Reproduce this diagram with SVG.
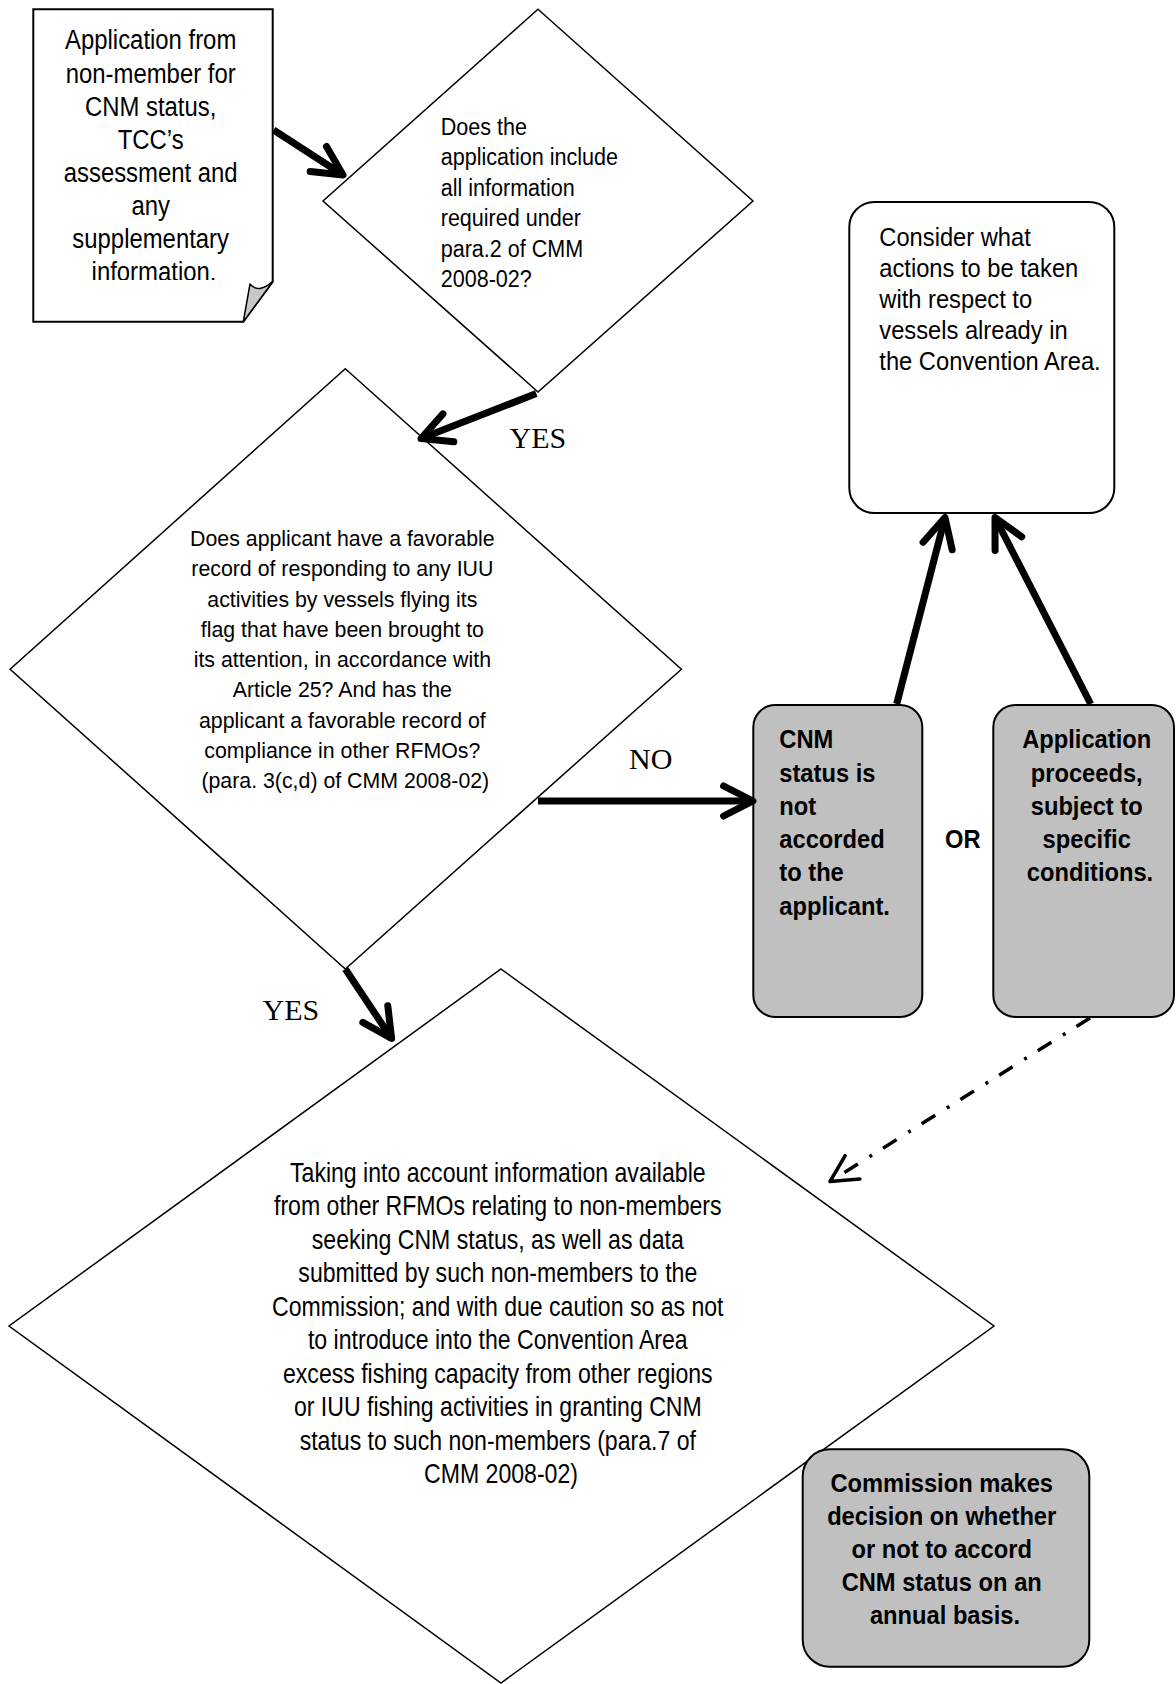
<svg xmlns="http://www.w3.org/2000/svg" width="1176" height="1684" viewBox="0 0 1176 1684">
<defs>
<style>
.sh{fill:#fff;stroke:#000;stroke-width:1.5}
.gbox{fill:#c0c0c0;stroke:#000;stroke-width:2}
.wbox{fill:#fff;stroke:#000;stroke-width:2}
.t{font-family:"Liberation Sans",Arial,sans-serif;fill:#000}
.b{font-weight:bold}
.lbl{font-family:"Liberation Serif","Times New Roman",serif;font-size:30px;fill:#000}
.arr{fill:none;stroke:#000;stroke-width:7;marker-end:url(#ah)}
.dash{fill:none;stroke:#000;stroke-width:3.5;stroke-dasharray:16 13 3 13.7;marker-end:url(#ah2)}
</style>
<marker id="ah" markerUnits="userSpaceOnUse" viewBox="-40 -25 50 50" markerWidth="50" markerHeight="50" refX="0" refY="0" orient="auto">
<path d="M-29.4,-15 L0,0 L-29.4,15" fill="none" stroke="#000" stroke-width="7" stroke-linecap="round" stroke-linejoin="round"/>
</marker>
<marker id="ah2" markerUnits="userSpaceOnUse" viewBox="-40 -25 50 50" markerWidth="50" markerHeight="50" refX="0" refY="0" orient="auto">
<path d="M-26.6,-13.8 L0,0 L-26.6,13.8" fill="none" stroke="#000" stroke-width="3.5" stroke-linecap="round" stroke-linejoin="round"/>
</marker>
<clipPath id="docclip"><rect x="34" y="10" width="238" height="270"/></clipPath>
</defs>

<g id="doc">
<path class="wbox" d="M33.3,9.3 H272.7 V281.7 L243.3,321.7 H33.3 Z"/>
<path d="M250,284 Q258,294 272.7,281.7 L243.3,321.7 Z" fill="#c8c8c8" stroke="#000" stroke-width="1.5" stroke-linejoin="round"/>
<g clip-path="url(#docclip)">
<g transform="translate(154 0) scale(0.885 1)">
<text class="t" font-size="27" text-anchor="middle">
<tspan x="0" y="49.5">Application from</tspan>
<tspan x="0" y="82.6">non-member for</tspan>
<tspan x="0" y="115.7">CNM status,</tspan>
<tspan x="0" y="148.8">TCC’s</tspan>
<tspan x="0" y="181.9">assessment and</tspan>
<tspan x="0" y="215">any</tspan>
<tspan x="0" y="248.1">supplementary</tspan>
<tspan x="0" y="281.2">information.</tspan>
</text>
</g>
</g>
</g>

<g id="q1">
<path class="sh" d="M538,9.3 L753,201 L538,392 L323,201 Z"/>
<g transform="translate(440.7 0) scale(0.88 1)">
<text class="t" font-size="24.5">
<tspan x="0" y="135">Does the</tspan>
<tspan x="0" y="165.5">application include</tspan>
<tspan x="0" y="196">all information</tspan>
<tspan x="0" y="226.5">required under</tspan>
<tspan x="0" y="257">para.2 of CMM</tspan>
<tspan x="0" y="287.5">2008-02?</tspan>
</text>
</g>
</g>

<g id="consider">
<rect class="wbox" x="849.3" y="202" width="265" height="311" rx="25" ry="25"/>
<g transform="translate(879.3 0) scale(0.93 1)">
<text class="t" font-size="25.5">
<tspan x="0" y="246">Consider what</tspan>
<tspan x="0" y="277">actions to be taken</tspan>
<tspan x="0" y="308">with respect to</tspan>
<tspan x="0" y="339">vessels already in</tspan>
<tspan x="0" y="370">the Convention Area.</tspan>
</text>
</g>
</g>

<g id="q2">
<path class="sh" d="M345.3,368.7 L681.4,669.2 L345.3,969 L10.1,669.2 Z"/>
<g transform="translate(345.3 0) scale(0.935 1)">
<text class="t" font-size="22.8" text-anchor="middle">
<tspan x="0" y="546">Does applicant have a favorable</tspan>
<tspan x="0" y="576.3">record of responding to any IUU</tspan>
<tspan x="0" y="606.6">activities by vessels flying its</tspan>
<tspan x="0" y="636.9">flag that have been brought to</tspan>
<tspan x="0" y="667.2">its attention, in accordance with</tspan>
<tspan x="0" y="697.5">Article 25? And has the</tspan>
<tspan x="0" y="727.8">applicant a favorable record of</tspan>
<tspan x="0" y="758.1">compliance in other RFMOs?</tspan>
<tspan x="0" y="788.4">(para. 3(c,d) of CMM 2008-02)</tspan>
</text>
</g>
</g>

<g id="notaccorded">
<rect class="gbox" x="753.3" y="705" width="169" height="312" rx="22" ry="22"/>
<g transform="translate(779.3 0) scale(0.895 1)">
<text class="t b" font-size="26.5">
<tspan x="0" y="748.3">CNM</tspan>
<tspan x="0" y="781.6">status is</tspan>
<tspan x="0" y="814.9">not</tspan>
<tspan x="0" y="848.2">accorded</tspan>
<tspan x="0" y="881.5">to the</tspan>
<tspan x="0" y="914.8">applicant.</tspan>
</text>
</g>
</g>

<g id="or">
<g transform="translate(962.8 0) scale(0.895 1)">
<text class="t b" font-size="26.5" text-anchor="middle" x="0" y="848.3">OR</text>
</g>
</g>

<g id="proceeds">
<rect class="gbox" x="993.3" y="705" width="180.7" height="312" rx="22" ry="22"/>
<g transform="translate(1090 0) scale(0.895 1)">
<text class="t b" font-size="26.5" text-anchor="middle">
<tspan x="0" y="748.3">Application</tspan>
<tspan x="0" y="781.6">proceeds,</tspan>
<tspan x="0" y="814.9">subject to</tspan>
<tspan x="0" y="848.2">specific</tspan>
<tspan x="0" y="881.5">conditions.</tspan>
</text>
</g>
</g>

<g id="q3">
<path class="sh" d="M501,969 L994,1326 L501,1683 L9,1326 Z"/>
<g transform="translate(501 0) scale(0.81 1)">
<text class="t" font-size="28.5" text-anchor="middle">
<tspan x="0" y="1182">Taking into account information available</tspan>
<tspan x="0" y="1215.5">from other RFMOs relating to non-members</tspan>
<tspan x="0" y="1249">seeking CNM status, as well as data</tspan>
<tspan x="0" y="1282.5">submitted by such non-members to the</tspan>
<tspan x="0" y="1316">Commission; and with due caution so as not</tspan>
<tspan x="0" y="1349.5">to introduce into the Convention Area</tspan>
<tspan x="0" y="1383">excess fishing capacity from other regions</tspan>
<tspan x="0" y="1416.5">or IUU fishing activities in granting CNM</tspan>
<tspan x="0" y="1450">status to such non-members (para.7 of</tspan>
<tspan x="0" y="1483.5">CMM 2008-02)</tspan>
</text>
</g>
</g>

<g id="commission">
<rect class="gbox" x="802.7" y="1449.3" width="286.6" height="217.4" rx="27" ry="27"/>
<g transform="translate(945 0) scale(0.93 1)">
<text class="t b" font-size="25.5" text-anchor="middle">
<tspan x="0" y="1492.5">Commission makes</tspan>
<tspan x="0" y="1525.3">decision on whether</tspan>
<tspan x="0" y="1558.1">or not to accord</tspan>
<tspan x="0" y="1590.9">CNM status on an</tspan>
<tspan x="0" y="1623.7">annual basis.</tspan>
</text>
</g>
</g>

<g id="connectors">
<path class="arr" d="M273.6,130 L343,175"/>
<path class="arr" d="M536.3,393.6 L421,438.5"/>
<path class="arr" d="M538,801 L753,801"/>
<path class="arr" d="M896.7,704 L945,517.5"/>
<path class="arr" d="M1090.7,704 L995,517.5"/>
<path class="arr" d="M345.3,969 L391.6,1038.5"/>
<path class="dash" d="M1090,1018 L830,1181.5"/>
<text class="lbl" x="509.5" y="448">YES</text>
<text class="lbl" x="629" y="769">NO</text>
<text class="lbl" x="262.5" y="1020">YES</text>
</g>
</svg>
